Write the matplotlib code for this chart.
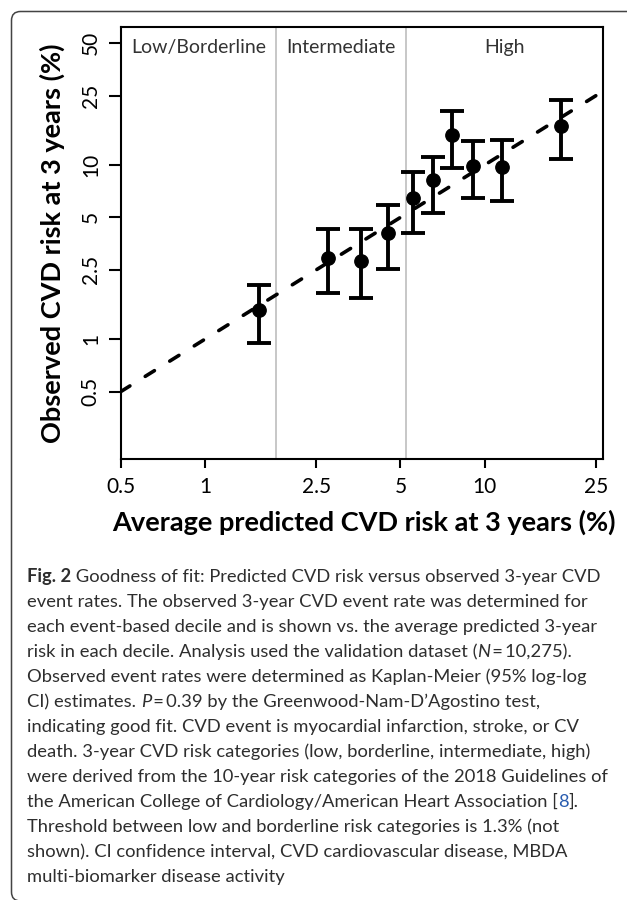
import numpy as np
import matplotlib
matplotlib.use('Agg')
import matplotlib.pyplot as plt
from matplotlib.patches import PathPatch
from matplotlib.path import Path
from matplotlib.ticker import NullLocator
import matplotlib.transforms as mtransforms

plt.rcParams['font.family'] = ['Lato', 'DejaVu Sans']

# ---- data ----
pred = [1.565, 2.76, 3.62, 4.52, 5.55, 6.55, 7.62, 9.06, 11.5, 18.73]
obs = [1.47, 2.94, 2.81, 4.06, 6.44, 8.20, 14.87, 9.91, 9.70, 16.75]
ci_low = [0.955, 1.85, 1.72, 2.53, 4.06, 5.32, 9.57, 6.49, 6.22, 10.78]
ci_high = [2.05, 4.27, 4.27, 5.89, 9.15, 11.16, 20.4, 13.79, 13.9, 23.6]
thresholds = [1.8, 5.23]
categories = ['Low/Borderline', 'Intermediate', 'High']
xticks = [0.5, 1, 2.5, 5, 10, 25]
xtick_labels = ['0.5', '1', '2.5', '5', '10', '25']
yticks = [0.5, 1, 2.5, 5, 10, 25, 50]
ytick_labels = ['0.5', '1', '2.5', '5', '10', '25', '50']
identity = [0.5, 25]
xlim = (0.5, 26.5)
ylim = (0.2045, 61.7)
xlabel = 'Average predicted CVD risk at 3 years (%)'
ylabel = 'Observed CVD risk at 3 years (%)'

N = 'n'; B = 'b'; I = 'i'; L = 'l'
caption = [
    [("Fig. 2", B), (" Goodness of fit: Predicted CVD risk versus observed 3-year CVD", N)],
    [("event rates. The observed 3-year CVD event rate was determined for", N)],
    [("each event-based decile and is shown vs. the average predicted 3-year", N)],
    [("risk in each decile. Analysis used the validation dataset (", N), ("N", I), ("\u2009=\u200910,275).", N)],
    [("Observed event rates were determined as Kaplan-Meier (95% log-log", N)],
    [("CI) estimates. ", N), ("P", I), ("\u2009=\u20090.39 by the Greenwood-Nam-D\u2019Agostino test,", N)],
    [("indicating good fit. CVD event is myocardial infarction, stroke, or CV", N)],
    [("death. 3-year CVD risk categories (low, borderline, intermediate, high)", N)],
    [("were derived from the 10-year risk categories of the 2018 Guidelines of", N)],
    [("the American College of Cardiology/American Heart Association [", N), ("8", L), ("].", N)],
    [("Threshold between low and borderline risk categories is 1.3% (not", N)],
    [("shown). CI confidence interval, CVD cardiovascular disease, MBDA", N)],
    [("multi-biomarker disease activity", N)],
]

W, H = 627, 900
fig = plt.figure(figsize=(W / 100, H / 100), dpi=100)

# pixel (from top-left) -> figure transform
pxt = mtransforms.Affine2D().scale(1.0 / W, -1.0 / H).translate(0, 1) + fig.transFigure

# panel border: open to the right, rounded left corners
xl, yt, yb_, r, xr = 11.5, 11.5, 901.0, 9.0, 700.0
verts = [(xr, yt), (xl + r, yt), (xl, yt), (xl, yt + r), (xl, yb_ - r), (xl, yb_),
         (xl + r, yb_), (xr, yb_)]
codes = [Path.MOVETO, Path.LINETO, Path.CURVE3, Path.CURVE3, Path.LINETO, Path.CURVE3,
         Path.CURVE3, Path.LINETO]
border = PathPatch(Path(verts, codes), transform=pxt, fill=False,
                   edgecolor='#444444', linewidth=1.1)
fig.patches.append(border)

ax_l, ax_r, ax_t, ax_b = 120.7, 603.0, 27.3, 459.3
ax = fig.add_axes([ax_l / W, 1 - ax_b / H, (ax_r - ax_l) / W, (ax_b - ax_t) / H])
ax.set_xscale('log')
ax.set_yscale('log')
ax.set_xlim(xlim)
ax.set_ylim(ylim)

for t in thresholds:
    ax.axvline(t, color='#bdbdbd', linewidth=1.2, zorder=1)

ax.plot(identity, identity, color='black', linewidth=2.6,
        linestyle=(0, (3.0, 5.0)), dash_capstyle='round', zorder=2)

obs_a = np.array(obs)
yerr = [obs_a - np.array(ci_low), np.array(ci_high) - obs_a]
ax.errorbar(pred, obs, yerr=yerr, fmt='o', color='black', ms=9.6,
            elinewidth=2.8, capsize=8.6, capthick=2.8, zorder=3)

ax.set_xticks(xticks)
ax.set_xticklabels(xtick_labels)
ax.set_yticks(yticks)
ax.set_yticklabels(ytick_labels, rotation=90, va='center')
ax.xaxis.set_minor_locator(NullLocator())
ax.yaxis.set_minor_locator(NullLocator())
ax.tick_params(axis='x', length=6.5, width=1.5, pad=6, labelsize=15)
ax.tick_params(axis='y', length=8.8, width=1.5, pad=5.5, labelsize=15)
for s in ax.spines.values():
    s.set_linewidth(1.5)

# category labels
bounds = [xlim[0]] + thresholds + [xlim[1]]
trans = mtransforms.blended_transform_factory(ax.transData, ax.transAxes)
for i, c in enumerate(categories):
    xc = np.sqrt(bounds[i] * bounds[i + 1])
    ax.text(xc, (ax_b - 53) / (ax_b - ax_t), c, transform=trans, ha='center',
            va='baseline', fontsize=14, color='#333333')

fig.text(61 / W, 1 - ((ax_t + ax_b) / 2) / H, ylabel, rotation=90, rotation_mode='anchor',
         ha='center', va='baseline', fontsize=19.5, fontweight='bold')
fig.text(((ax_l + ax_r) / 2 + 2) / W, 1 - 531 / H, xlabel, ha='center', va='baseline',
         fontsize=19.5, fontweight='bold')

# caption
renderer = fig.canvas.get_renderer()
styles = {
    N: dict(color='#2e2e2e'),
    B: dict(color='#2e2e2e', fontweight='bold'),
    I: dict(color='#2e2e2e', fontstyle='italic'),
    L: dict(color='#2a5db0'),
}


def measure(s, size, st):
    t1 = fig.text(0, 0, '|' + s + '|', fontsize=size, **styles[st])
    t2 = fig.text(0, 0, '||', fontsize=size, **styles[st])
    w = t1.get_window_extent(renderer).width - t2.get_window_extent(renderer).width
    t1.remove(); t2.remove()
    return w


base = 12.0
w0 = sum(measure(s, base, st) for s, st in caption[0])
size = base * 573.0 / w0

x0 = 27
for k, line in enumerate(caption):
    ybl = 582 + 25.0 * k
    x = x0
    for s, st in line:
        fig.text(x / W, 1 - ybl / H, s, fontsize=size, va='baseline', ha='left', **styles[st])
        x += measure(s, size, st)

fig.savefig('out.png', dpi=100)
